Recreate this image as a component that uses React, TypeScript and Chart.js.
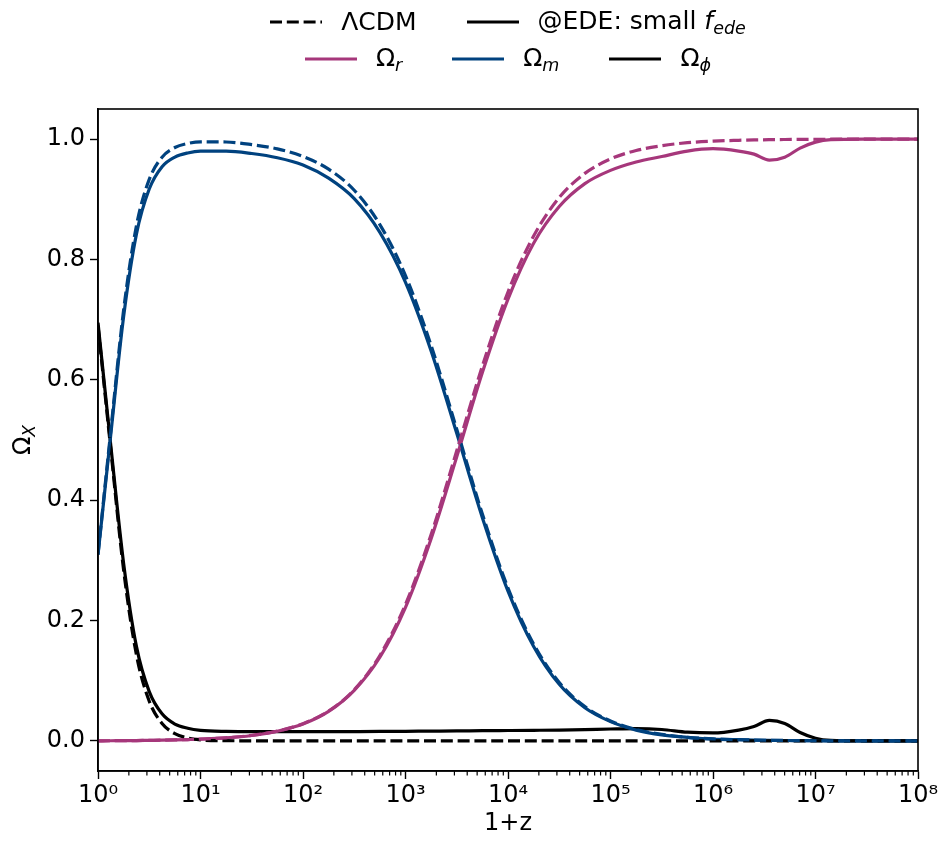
import React, { useEffect, useRef } from "react";
import { Chart, registerables } from "chart.js";
Chart.register(...registerables);

// 1+z sample positions
const onePlusZ = [1, 1.334, 1.778, 2.371, 3.162, 4.217, 5.623, 7.499, 10, 17.78, 31.62, 56.23, 100, 177.8, 316.2, 562.3, 1000, 1778, 3162, 5623, 10000, 17783, 31623, 56234, 100000, 177828, 316228, 562341, 1000000, 1778279, 2511886, 3548134, 5011872, 7079458, 10000000, 14125375, 31622777, 100000000];

// ΛCDM (dashed)
const omegaR_LCDM = [0.0001, 0.0003, 0.0004, 0.0006, 0.0009, 0.0012, 0.0016, 0.0022, 0.0029, 0.0052, 0.0092, 0.0163, 0.0286, 0.0497, 0.085, 0.142, 0.227, 0.343, 0.482, 0.623, 0.746, 0.839, 0.903, 0.943, 0.967, 0.981, 0.989, 0.994, 0.9966, 0.998, 0.9986, 0.999, 0.9993, 0.9995, 0.9997, 0.9998, 0.9999, 1.0];
const omegaM_LCDM = [0.31, 0.516, 0.716, 0.856, 0.933, 0.970, 0.986, 0.9928, 0.9955, 0.9952, 0.9908, 0.9837, 0.971, 0.950, 0.915, 0.858, 0.773, 0.657, 0.518, 0.377, 0.254, 0.161, 0.097, 0.057, 0.033, 0.019, 0.011, 0.006, 0.0034, 0.002, 0.0014, 0.001, 0.0007, 0.0005, 0.0003, 0.0002, 0.0001, 0.0];
const omegaPhi_LCDM = [0.69, 0.484, 0.284, 0.143, 0.066, 0.029, 0.012, 0.005, 0.0016, 0.0004, 0.0001, 0, 0, 0, 0, 0, 0, 0, 0, 0, 0, 0, 0, 0, 0, 0, 0, 0, 0, 0, 0, 0, 0, 0, 0, 0, 0, 0];

// EDE: small f_ede (solid)
const omegaR_EDE = [0.0001, 0.0003, 0.0004, 0.0006, 0.0009, 0.0012, 0.0016, 0.0022, 0.0029, 0.005, 0.009, 0.016, 0.028, 0.049, 0.084, 0.139, 0.222, 0.336, 0.472, 0.612, 0.734, 0.827, 0.888, 0.926, 0.948, 0.962, 0.971, 0.980, 0.984, 0.980, 0.975, 0.965, 0.970, 0.985, 0.995, 0.999, 0.9999, 1.0];
const omegaM_EDE = [0.309, 0.51, 0.705, 0.842, 0.917, 0.954, 0.970, 0.977, 0.980, 0.980, 0.976, 0.969, 0.957, 0.935, 0.901, 0.845, 0.762, 0.648, 0.511, 0.371, 0.249, 0.157, 0.094, 0.055, 0.032, 0.018, 0.010, 0.006, 0.003, 0.002, 0.0014, 0.001, 0.0007, 0.0005, 0.0003, 0.0002, 0.0001, 0.0];
const omegaPhi_EDE = [0.695, 0.49, 0.295, 0.157, 0.082, 0.045, 0.028, 0.021, 0.0175, 0.0158, 0.0155, 0.0153, 0.0153, 0.0153, 0.0155, 0.0157, 0.016, 0.0163, 0.0166, 0.017, 0.0173, 0.0176, 0.018, 0.0188, 0.0198, 0.0205, 0.019, 0.0145, 0.0132, 0.018, 0.024, 0.034, 0.029, 0.014, 0.0045, 0.001, 0.0002, 0.0];

const xMajorTicks = [1, 10, 100, 1000, 10000, 100000, 1000000, 10000000, 100000000];
const xTickLabels = ["10⁰", "10¹", "10²", "10³", "10⁴", "10⁵", "10⁶", "10⁷", "10⁸"];
const yTicks = [0, 0.2, 0.4, 0.6, 0.8, 1.0];

const PINK = "#A6377B";
const BLUE = "#00427F";
const BLACK = "#000000";
const FONT = '"DejaVu Sans", sans-serif';
const FS = 24;
const LEG_FS = 25;
const LW = 3.2;
const DASH = [12, 4.8];

const pts = (ys: number[]) => ys.map((y, i) => ({ x: onePlusZ[i], y }));

const framePlugin = {
  id: "frame",
  afterDraw(chart: any) {
    const { ctx, chartArea, scales } = chart;
    ctx.save();
    ctx.strokeStyle = "#000";
    ctx.lineWidth = 1.6;
    ctx.strokeRect(chartArea.left, chartArea.top, chartArea.right - chartArea.left, chartArea.bottom - chartArea.top);
    // minor ticks on log x axis
    const xs = scales.x;
    ctx.lineWidth = 1.2;
    for (let d = 0; d < 8; d++) {
      for (let k = 2; k <= 9; k++) {
        const v = k * Math.pow(10, d);
        const px = xs.getPixelForValue(v);
        ctx.beginPath();
        ctx.moveTo(px, chartArea.bottom);
        ctx.lineTo(px, chartArea.bottom + 4.5);
        ctx.stroke();
      }
    }
    // y axis title  Ω_X
    const cy = (chartArea.top + chartArea.bottom) / 2;
    ctx.translate(22, cy);
    ctx.rotate(-Math.PI / 2);
    ctx.fillStyle = "#000";
    ctx.textBaseline = "alphabetic";
    ctx.font = `${FS}px ${FONT}`;
    const w1 = ctx.measureText("Ω").width;
    ctx.font = `italic ${Math.round(FS * 0.7)}px ${FONT}`;
    const w2 = ctx.measureText("X").width;
    const x0 = -(w1 + w2) / 2;
    ctx.font = `${FS}px ${FONT}`;
    ctx.fillText("Ω", x0, 8);
    ctx.font = `italic ${Math.round(FS * 0.7)}px ${FONT}`;
    ctx.fillText("X", x0 + w1, 13);
    ctx.restore();
  },
};

function Sample({ color, dashed }: { color: string; dashed?: boolean }) {
  return (
    <svg width={52} height={10} style={{ display: "block" }}>
      <line x1={0} y1={5} x2={52} y2={5} stroke={color} strokeWidth={LW} strokeDasharray={dashed ? DASH.join(" ") : undefined} />
    </svg>
  );
}

const subStyle: React.CSSProperties = { fontStyle: "italic", fontSize: "0.7em", position: "relative", top: "0.3em" };

function Item({ color, dashed, children, last }: any) {
  return (
    <div style={{ display: "flex", alignItems: "center", marginRight: last ? 0 : 50 }}>
      <Sample color={color} dashed={dashed} />
      <span style={{ marginLeft: 19, whiteSpace: "nowrap" }}>{children}</span>
    </div>
  );
}

export default function App() {
  const ref = useRef<HTMLCanvasElement>(null);
  useEffect(() => {
    document.body.style.margin = "0";
    const mk = (label: string, ys: number[], color: string, dashed: boolean) => ({
      label,
      data: pts(ys),
      borderColor: color,
      backgroundColor: color,
      borderWidth: LW,
      borderDash: dashed ? DASH : [],
      pointRadius: 0,
      fill: false,
      cubicInterpolationMode: "monotone" as const,
      borderCapStyle: "butt" as const,
    });
    const chart = new Chart(ref.current as HTMLCanvasElement, {
      type: "line",
      data: {
        datasets: [
          mk("Ωr ΛCDM", omegaR_LCDM, PINK, true),
          mk("Ωm ΛCDM", omegaM_LCDM, BLUE, true),
          mk("Ωφ ΛCDM", omegaPhi_LCDM, BLACK, true),
          mk("Ωr EDE", omegaR_EDE, PINK, false),
          mk("Ωm EDE", omegaM_EDE, BLUE, false),
          mk("Ωφ EDE", omegaPhi_EDE, BLACK, false),
        ],
      },
      options: {
        animation: false,
        responsive: false,
        maintainAspectRatio: false,
        layout: { padding: { left: 0, right: 23, top: 109, bottom: 0 } },
        plugins: { legend: { display: false }, tooltip: { enabled: false } },
        scales: {
          x: {
            type: "logarithmic",
            min: 1,
            max: 1e8,
            afterBuildTicks: (s: any) => {
              s.ticks = xMajorTicks.map((v) => ({ value: v }));
            },
            afterFit: (s: any) => {
              s.height = 71;
            },
            ticks: {
              autoSkip: false,
              maxRotation: 0,
              padding: 2,
              color: "#000",
              font: { family: FONT, size: FS },
              callback: (v: any) => {
                const i = xMajorTicks.indexOf(Number(v));
                return i >= 0 ? xTickLabels[i] : "";
              },
            },
            grid: { display: true, drawOnChartArea: false, drawTicks: true, tickLength: 8, tickWidth: 1.4, tickColor: "#000" },
            border: { display: true, color: "#000", width: 1.6 },
            title: { display: true, text: "1+z", color: "#000", font: { family: FONT, size: FS }, padding: { top: 0, bottom: 4 } },
          },
          y: {
            type: "linear",
            min: -0.05,
            max: 1.05,
            afterBuildTicks: (s: any) => {
              s.ticks = yTicks.map((v) => ({ value: v }));
            },
            afterFit: (s: any) => {
              s.width = 98;
            },
            ticks: {
              padding: 5,
              color: "#000",
              font: { family: FONT, size: FS },
              callback: (v: any) => Number(v).toFixed(1),
            },
            grid: { display: true, drawOnChartArea: false, drawTicks: true, tickLength: 8, tickWidth: 1.4, tickColor: "#000" },
            border: { display: true, color: "#000", width: 1.6 },
          },
        },
      },
      plugins: [framePlugin],
    } as any);
    return () => chart.destroy();
  }, []);

  const rowStyle = (top: number): React.CSSProperties => ({
    position: "absolute",
    left: 98,
    width: 820,
    top,
    height: 30,
    display: "flex",
    justifyContent: "center",
    alignItems: "center",
    fontFamily: FONT,
    fontSize: LEG_FS,
    color: "#000",
    lineHeight: "30px",
  });

  return (
    <div style={{ position: "relative", width: 941, height: 842, background: "#fff", overflow: "hidden" }}>
      <style>{`body{margin:0}`}</style>
      <canvas ref={ref} width={941} height={842} style={{ position: "absolute", left: 0, top: 0 }} />
      <div style={rowStyle(7)}>
        <Item color={BLACK} dashed>ΛCDM</Item>
        <Item color={BLACK} last>
          @EDE: small <i>f</i>
          <span style={subStyle}>ede</span>
        </Item>
      </div>
      <div style={rowStyle(44)}>
        <Item color={PINK}>
          Ω<span style={subStyle}>r</span>
        </Item>
        <Item color={BLUE}>
          Ω<span style={subStyle}>m</span>
        </Item>
        <Item color={BLACK} last>
          Ω<span style={subStyle}>ϕ</span>
        </Item>
      </div>
    </div>
  );
}
